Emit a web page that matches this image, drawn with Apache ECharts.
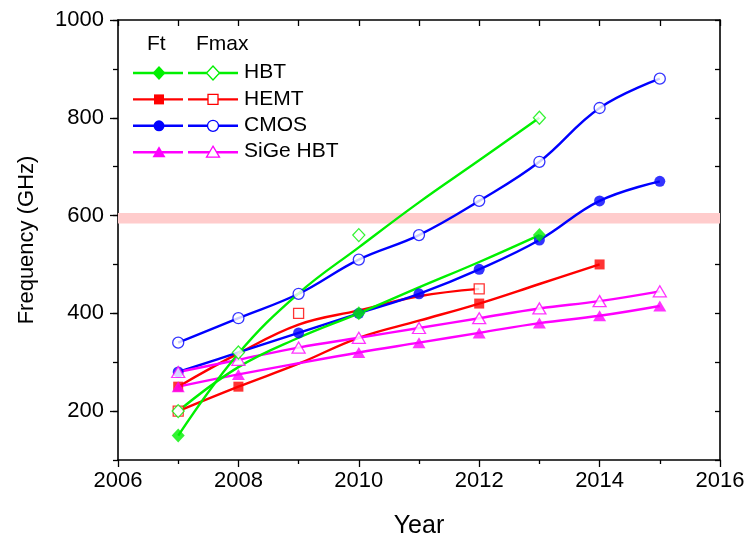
<!DOCTYPE html>
<html>
<head>
<meta charset="utf-8">
<script src="https://cdn.jsdelivr.net/npm/echarts@6/dist/echarts.min.js"></script>
<style>html,body{margin:0;padding:0;background:#fff}#c{width:747px;height:540px}</style>
</head>
<body>
<div id="c"></div>
<script>
// ---- Tick labels / axes ----
const xTicks = [2006, 2008, 2010, 2012, 2014, 2016];
const yTicks = [200, 400, 600, 800, 1000];
const bandRange = [584, 605];

// ---- Marker data ----
const hbtFtYears = [2007, 2010, 2013];
const hbtFtVals = [150, 400, 560];
const hbtFmaxYears = [2007, 2008, 2010, 2013];
const hbtFmaxVals = [200, 320, 560, 800];
const hemtFtYears = [2007, 2008, 2012, 2014];
const hemtFtVals = [250, 250, 420, 500];
const hemtFmaxYears = [2007, 2009, 2012];
const hemtFmaxVals = [200, 400, 450];
const cmosFtYears = [2007, 2009, 2010, 2011, 2012, 2013, 2014, 2015];
const cmosFtVals = [280, 360, 400, 440, 490, 550, 630, 670];
const cmosFmaxYears = [2007, 2008, 2009, 2010, 2011, 2012, 2013, 2014, 2015];
const cmosFmaxVals = [340, 390, 440, 510, 560, 630, 710, 820, 880];
const sigeFtYears = [2007, 2008, 2010, 2011, 2012, 2013, 2014, 2015];
const sigeFtVals = [250, 275, 320, 340, 360, 380, 395, 415];
const sigeFmaxYears = [2007, 2008, 2009, 2010, 2011, 2012, 2013, 2014, 2015];
const sigeFmaxVals = [280, 305, 330, 350, 370, 390, 410, 425, 445];

// ---- Drawn curves ----
const hbtCurveAYears = [2007, 2008, 2009, 2010, 2011, 2012, 2013];
const hbtCurveAVals = [150, 318, 441, 535, 627, 713, 800];
const hbtCurveBYears = [2007, 2008, 2009, 2010, 2011, 2012, 2013];
const hbtCurveBVals = [200, 290, 350, 400, 453, 505, 560];
const hemtCurveAYears = [2007, 2008, 2009, 2010, 2011, 2012];
const hemtCurveAVals = [250, 318, 377, 406, 435, 450];
const hemtCurveBYears = [2007, 2008, 2009, 2010, 2011, 2012, 2013, 2014];
const hemtCurveBVals = [200, 250, 297, 350, 385, 420, 460, 500];
const cmosCurveAYears = [2007, 2008, 2009, 2010, 2011, 2012, 2013, 2014, 2015];
const cmosCurveAVals = [340, 390, 440, 510, 560, 630, 710, 820, 880];
const cmosCurveBYears = [2007, 2008, 2009, 2010, 2011, 2012, 2013, 2014, 2015];
const cmosCurveBVals = [280, 320, 360, 400, 440, 490, 550, 630, 670];
const sigeCurveAYears = [2007, 2008, 2009, 2010, 2011, 2012, 2013, 2014, 2015];
const sigeCurveAVals = [280, 305, 330, 350, 370, 390, 410, 425, 445];
const sigeCurveBYears = [2007, 2008, 2009, 2010, 2011, 2012, 2013, 2014, 2015];
const sigeCurveBVals = [250, 275, 298, 320, 340, 360, 380, 395, 415];

const GREEN = '#00f000', RED = '#ff0000', BLUE = '#0000ff', MAG = '#ff00ff';
const FONT = '"Liberation Sans", Arial, Helvetica, sans-serif';

function pairs(xs, ys) { return xs.map((x, i) => [x, ys[i]]); }

function curve(xs, ys, color, z) {
  return {
    type: 'line', data: pairs(xs, ys), smooth: 0.4, showSymbol: false, symbol: 'none',
    lineStyle: { color: color, width: 2.4 }, z: z, silent: true, animation: false
  };
}
function markers(xs, ys, color, symbol, size, filled, z) {
  return {
    type: 'scatter', data: pairs(xs, ys), symbol: symbol, symbolSize: size, z: z,
    itemStyle: filled ? { color: color, borderWidth: 0 } : { color: '#ffffff', borderColor: color, borderWidth: 1.3 },
    silent: true, animation: false
  };
}

const series = [
  {
    type: 'line', data: [], markArea: {
      silent: true, itemStyle: { color: '#ffcccc', opacity: 1 },
      data: [[{ xAxis: 2006, yAxis: bandRange[0] }, { xAxis: 2016, yAxis: bandRange[1] }]]
    }, z: 1
  },
  curve(hemtCurveAYears, hemtCurveAVals, RED, 2),
  curve(hemtCurveBYears, hemtCurveBVals, RED, 2),
  curve(cmosCurveAYears, cmosCurveAVals, BLUE, 2),
  curve(cmosCurveBYears, cmosCurveBVals, BLUE, 2),
  curve(sigeCurveAYears, sigeCurveAVals, MAG, 2),
  curve(sigeCurveBYears, sigeCurveBVals, MAG, 2),
  curve(hbtCurveAYears, hbtCurveAVals, GREEN, 2),
  curve(hbtCurveBYears, hbtCurveBVals, GREEN, 2),
  markers(hemtFmaxYears, hemtFmaxVals, RED, 'rect', 10, false, 3),
  markers(hemtFtYears, hemtFtVals, RED, 'rect', 10, true, 3),
  markers(cmosFmaxYears, cmosFmaxVals, BLUE, 'circle', 11, false, 4),
  markers(cmosFtYears, cmosFtVals, BLUE, 'circle', 11, true, 4),
  markers(sigeFmaxYears, sigeFmaxVals, MAG, 'triangle', [13, 11], false, 5),
  markers(sigeFtYears, sigeFtVals, MAG, 'triangle', [13, 11], true, 5),
  markers(hbtFmaxYears, hbtFmaxVals, GREEN, 'diamond', [12, 13], false, 6),
  markers(hbtFtYears, hbtFtVals, GREEN, 'diamond', [13, 14], true, 6)
];

// Legend (drawn as graphics)
const legendRows = [
  { name: 'HBT', color: GREEN, symbol: 'diamond' },
  { name: 'HEMT', color: RED, symbol: 'rect' },
  { name: 'CMOS', color: BLUE, symbol: 'circle' },
  { name: 'SiGe HBT', color: MAG, symbol: 'triangle' }
];
function legendSymbol(kind, cx, cy, color, filled) {
  const style = filled ? { fill: color, stroke: null } : { fill: '#fff', stroke: color, lineWidth: 1.3 };
  if (kind === 'diamond') return { type: 'polygon', shape: { points: [[cx, cy - 7], [cx + 6.5, cy], [cx, cy + 7], [cx - 6.5, cy]] }, style: style, z: 10 };
  if (kind === 'rect') return { type: 'rect', shape: { x: cx - 5, y: cy - 5, width: 10, height: 10 }, style: style, z: 10 };
  if (kind === 'circle') return { type: 'circle', shape: { cx: cx, cy: cy, r: 5.5 }, style: style, z: 10 };
  return { type: 'polygon', shape: { points: [[cx, cy - 6], [cx + 6.5, cy + 5], [cx - 6.5, cy + 5]] }, style: style, z: 10 };
}
const graphics = [
  { type: 'text', left: 147, top: 34, style: { text: 'Ft', font: '21px ' + FONT, fill: '#000' } },
  { type: 'text', left: 196, top: 34, style: { text: 'Fmax', font: '21px ' + FONT, fill: '#000' } }
];
legendRows.forEach((r, i) => {
  const y = 73 + i * 26.4;
  graphics.push({ type: 'line', shape: { x1: 133, y1: y, x2: 183, y2: y }, style: { stroke: r.color, lineWidth: 2.4 }, z: 9 });
  graphics.push({ type: 'line', shape: { x1: 188, y1: y, x2: 238, y2: y }, style: { stroke: r.color, lineWidth: 2.4 }, z: 9 });
  graphics.push(legendSymbol(r.symbol, 159, y, r.color, true));
  graphics.push(legendSymbol(r.symbol, 213, y, r.color, false));
  graphics.push({ type: 'text', left: 244, top: y - 11, style: { text: r.name, font: '21px ' + FONT, fill: '#000' }, z: 10 });
});

const axisLine = { show: true, lineStyle: { color: '#000', width: 1.6 } };
const option = {
  backgroundColor: '#fff',
  animation: false,
  grid: { left: 118, right: 27, top: 20, bottom: 80, containLabel: false, outerBoundsMode: 'none' },
  xAxis: [
    {
      type: 'value', position: 'bottom', min: 2006, max: 2016, interval: 2,
      axisLine: axisLine,
      axisTick: { show: true, inside: false, length: 7, lineStyle: { color: '#000', width: 1.3 } },
      minorTick: { show: true, splitNumber: 2, length: 4, lineStyle: { color: '#000', width: 1.3 } },
      splitLine: { show: false }, minorSplitLine: { show: false },
      axisLabel: { color: '#000', fontSize: 22, fontFamily: FONT, margin: 10, formatter: v => String(v) },
      name: 'Year', nameLocation: 'middle', nameGap: 54,
      nameTextStyle: { color: '#000', fontSize: 25, fontFamily: FONT }
    },
    {
      type: 'value', position: 'top', min: 2006, max: 2016, interval: 1,
      axisLine: axisLine,
      axisTick: { show: true, inside: true, length: 6, lineStyle: { color: '#000', width: 1.3 } },
      splitLine: { show: false }, axisLabel: { show: false }
    }
  ],
  yAxis: [
    {
      type: 'value', position: 'left', min: 100, max: 1000,
      axisLine: axisLine,
      axisTick: { show: true, inside: false, length: 8, customValues: yTicks, lineStyle: { color: '#000', width: 1.3 } },
      splitLine: { show: false },
      axisLabel: { color: '#000', fontSize: 22, fontFamily: FONT, margin: 14, customValues: yTicks, formatter: v => String(v) },
      name: 'Frequency (GHz)', nameLocation: 'middle', nameGap: 80,
      nameTextStyle: { color: '#000', fontSize: 22, fontFamily: FONT }
    },
    {
      type: 'value', position: 'left', min: 100, max: 1000, interval: 100,
      axisLine: { show: false },
      axisTick: { show: true, inside: false, length: 5, lineStyle: { color: '#000', width: 1.3 } },
      splitLine: { show: false }, axisLabel: { show: false }
    },
    {
      type: 'value', position: 'right', min: 100, max: 1000, interval: 100,
      axisLine: axisLine,
      axisTick: { show: true, inside: true, length: 5, lineStyle: { color: '#000', width: 1.3 } },
      splitLine: { show: false }, axisLabel: { show: false }
    }
  ],
  series: series,
  graphic: graphics
};

const chart = echarts.init(document.getElementById('c'), null, { renderer: 'canvas' });
chart.setOption(option);
</script>
</body>
</html>
